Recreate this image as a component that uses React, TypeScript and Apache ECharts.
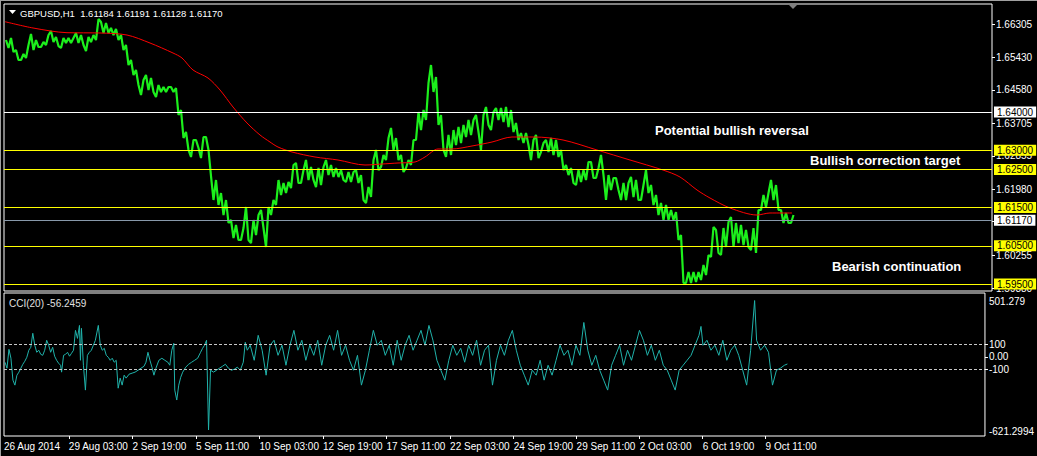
import React, { useEffect, useRef } from 'react';
import * as echarts from 'echarts';

// ---- price data: 5-hour sample columns (high / low), first column starts at hour 1
const BAR_STEP = 5;
const FIRST_HOUR = 1;
const priceHigh = [
  1.65887,1.65940,1.65626,1.65521,1.65757,1.66045,1.65887,1.65835,1.66018,1.66123,
  1.65966,1.65940,1.65940,1.65940,1.66071,1.66018,1.65966,1.66018,1.66437,1.66359,
  1.66333,1.66202,1.66175,1.66018,1.65757,1.65364,1.65102,1.64840,1.64971,1.64893,
  1.64709,1.64657,1.64657,1.64657,1.64631,1.64055,1.63479,1.63270,1.63270,1.63348,
  1.63348,1.62327,1.62223,1.61882,1.61699,1.61175,1.61045,1.60966,1.61516,1.61175,
  1.61306,1.61437,1.61516,1.61699,1.62223,1.62144,1.62170,1.62615,1.62668,1.62484,
  1.62746,1.62563,1.62537,1.62563,1.62746,1.62615,1.62537,1.62484,1.62432,1.62432,
  1.62484,1.62353,1.62039,1.62746,1.63008,1.62877,1.63322,1.63584,1.63322,1.62877,
  1.62746,1.63270,1.64003,1.64055,1.64762,1.65233,1.64919,1.63924,1.63401,1.63531,
  1.63610,1.63662,1.63793,1.63793,1.63924,1.63924,1.64134,1.64003,1.64107,1.64107,
  1.64134,1.64055,1.63715,1.63453,1.63453,1.63270,1.63401,1.63191,1.63270,1.63322,
  1.63270,1.63008,1.62615,1.62537,1.62484,1.62484,1.62694,1.62694,1.62537,1.62877,
  1.62353,1.62275,1.62275,1.62144,1.62144,1.62301,1.62223,1.62092,1.62484,1.62092,
  1.61830,1.61620,1.61568,1.61437,1.61385,1.60783,1.59814,1.59814,1.59814,1.59997,
  1.60259,1.60992,1.60914,1.60966,1.61123,1.61254,1.61097,1.61045,1.60914,1.60966,
  1.61437,1.61830,1.61882,1.62223,1.62092,1.61437,1.61359,1.61306,
];
const priceLow = [
  1.65678,1.65573,1.65364,1.65364,1.65416,1.65626,1.65704,1.65704,1.65757,1.65835,
  1.65730,1.65678,1.65809,1.65809,1.65809,1.65757,1.65600,1.65835,1.65887,1.66071,
  1.66071,1.66018,1.65887,1.65626,1.65233,1.64971,1.64709,1.64448,1.64579,1.64526,
  1.64395,1.64526,1.64526,1.64526,1.63924,1.63322,1.63008,1.62825,1.63060,1.62798,
  1.63008,1.61699,1.61568,1.61306,1.61097,1.60704,1.60652,1.60652,1.60652,1.60573,
  1.60783,1.60966,1.60469,1.61306,1.61568,1.61830,1.61882,1.62013,1.62144,1.62144,
  1.62223,1.62223,1.62039,1.62092,1.62353,1.62301,1.62301,1.62223,1.62170,1.62170,
  1.62144,1.61699,1.61620,1.61778,1.62484,1.62563,1.62746,1.63008,1.62746,1.62432,
  1.62537,1.62615,1.63270,1.63531,1.63793,1.64526,1.63662,1.63008,1.62825,1.62877,
  1.63139,1.63191,1.63348,1.63401,1.63479,1.63008,1.63662,1.63531,1.63793,1.63741,
  1.63610,1.63479,1.63270,1.63191,1.63139,1.62746,1.62798,1.62956,1.62956,1.62877,
  1.62825,1.62484,1.62353,1.62144,1.62092,1.62170,1.62223,1.62275,1.62275,1.62353,
  1.61699,1.61961,1.61961,1.61699,1.61699,1.61778,1.61699,1.61699,1.61882,1.61568,
  1.61306,1.61175,1.61175,1.61175,1.60652,1.59526,1.59526,1.59526,1.59552,1.59605,
  1.59736,1.60207,1.60312,1.60259,1.60469,1.60469,1.60573,1.60521,1.60469,1.60390,
  1.60312,1.61437,1.61516,1.61699,1.61437,1.61097,1.61097,1.61097,
];

// ---- moving average (red)
const maHours = [1,29,63,96,123,146,169,178,189,204,216,229,243,256,266,274,288,311,334,361,378,394,411,421,434,448,468,488,508,531,559,593,626,659,676,693,706,726,753,766,788];
const maValues = [1.66367,1.66202,1.66079,1.66071,1.66018,1.65809,1.65547,1.65416,1.65102,1.64893,1.64579,1.64134,1.63715,1.63401,1.63217,1.63086,1.62956,1.62825,1.62746,1.62615,1.62641,1.62668,1.62694,1.62825,1.63034,1.63034,1.63113,1.63217,1.63348,1.63348,1.63270,1.63008,1.62746,1.62484,1.62301,1.61961,1.61751,1.61490,1.61306,1.61359,1.61359];

// ---- CCI(20)
const cciHours = [1,3,5,7,9,11,13,15,17,19,21,23,25,27,29,31,33,35,37,39,41,43,45,47,49,51,53,55,57,58,60,62,64,66,68,70,72,74,76,77,78,80,82,84,86,88,90,92,95,97,99,101,103,105,107,109,111,113,115,117,119,121,123,126,129,132,135,138,141,143,145,147,149,151,153,156,159,162,165,167,169,171,172,174,176,178,180,183,186,189,192,195,198,200,202,204,206,208,211,214,217,220,223,226,229,232,235,238,241,243,245,
  248,252,256,260,264,268,272,276,280,284,288,292,296,300,304,308,312,316,320,324,328,332,336,340,344,348,352,356,360,364,368,372,376,380,384,388,392,396,400,404,408,412,416,420,424,428,432,436,440,444,448,452,456,460,464,468,472,476,480,484,488,492,496,500,504,508,512,516,520,524,528,532,536,540,544,548,552,556,560,564,568,572,576,580,584,588,592,596,600,604,608,612,616,620,624,628,632,636,640,644,648,652,656,660,664,668,672,676,680,684,688,692,696,700,702,704,708,712,716,720,724,728,732,736,740,744,748,752,756,758,762,766,770,774,778,782,786,789];
const cciValues = [-42,-89,59,-11,-183,-222,-144,-120,-89,-58,-34,-3,52,75,185,91,36,52,20,12,52,130,91,36,75,5,-27,-50,-66,-120,12,20,36,5,28,52,208,145,247,-27,224,-66,-261,12,36,52,91,130,247,91,52,67,12,-3,-27,-11,-42,-27,-246,-167,-222,-144,-167,-136,-128,-120,-105,-89,-74,-42,36,-27,-81,-144,-89,-27,-11,-27,-42,-66,52,106,-261,-339,-222,-160,-120,-81,-58,-42,-27,-11,36,67,91,130,-574,-105,-120,-105,-89,-74,-58,-89,-105,-97,-81,-105,-42,114,52,
  91,-27,169,52,-144,91,130,12,91,-66,91,208,52,130,-27,91,12,130,-66,91,169,52,208,12,91,-27,-105,12,-222,-105,52,208,91,130,12,91,-66,130,-27,91,169,52,130,208,91,247,130,-27,-105,-183,-27,91,12,67,-42,91,12,130,-66,52,91,-222,-27,91,12,130,208,52,-66,-144,-222,-105,-144,-27,-183,-66,-144,-27,91,12,52,-66,91,12,270,52,-66,12,-105,-183,-261,-66,12,91,-66,52,-27,91,208,130,12,91,-27,52,-66,-105,-183,-261,-105,-66,-27,12,91,169,239,91,130,52,91,12,130,-27,52,91,12,-105,-222,52,442,130,52,91,36,-222,-105,-89,-66,-56];

// ---- axes / levels
const timeTickHours = [0, 65.3, 129.3, 193.3, 257.3, 321.3, 385.3, 449.3, 513.3, 576.7, 640.3, 703.7, 767];
const timeTickLabels = ['26 Aug 2014','29 Aug 03:00','2 Sep 19:00','5 Sep 11:00','10 Sep 03:00','12 Sep 19:00','17 Sep 11:00','22 Sep 03:00','24 Sep 19:00','29 Sep 11:00','2 Oct 03:00','6 Oct 19:00','9 Oct 11:00'];
const priceTicks = [1.66305, 1.65430, 1.64580, 1.63705, 1.62855, 1.61980, 1.61130, 1.60255, 1.59380];
const yellowLevels = [1.63, 1.625, 1.615, 1.605, 1.595];
const whiteLevel = 1.64;
const bidLevel = 1.6117;
const cciTicks = [501.279, 100, 0, -100, -621.2994];
const cciTickLabels = ['501.279', '100', '0.00', '-100', '-621.2994'];
const cciLevels = [100, -100];
const PRICE_MIN = 1.59317;
const PRICE_MAX = 1.6683;
const HOURS_MAX = 988;

const FONT = 'Liberation Sans, Arial, sans-serif';
const GREEN = '#1cf01c';

export default function App() {
  const ref = useRef<HTMLDivElement>(null);
  useEffect(() => {
    document.body.style.margin = '0';
    const chart = echarts.init(ref.current!, null, { renderer: 'svg' });
    // each sample column: a vertical high-low stroke, joined into one jagged price trace
    const mid = (i: number) => (priceHigh[i] + priceLow[i]) / 2;
    const trace: number[][] = [];
    priceHigh.forEach((h, i) => {
      const start = FIRST_HOUR + i * BAR_STEP;
      const goingDown = i < priceHigh.length - 1 ? mid(i + 1) < mid(i) : false;
      if (goingDown) { trace.push([start + 1, h], [start + 3.5, priceLow[i]]); }
      else { trace.push([start + 1, priceLow[i]], [start + 3.5, h]); }
    });
    const levelLabel = (bg: string) => ({
      show: true, position: 'end', distance: 2, formatter: (p: any) => Number(p.value).toFixed(5),
      backgroundColor: bg, color: '#000', fontSize: 10, fontFamily: FONT, padding: [1, 3, 0, 3], lineHeight: 10,
    });
    const option: any = {
      animation: false,
      backgroundColor: '#000',
      grid: [
        { left: 4, top: 4, width: 988, height: 287, show: true, borderColor: '#fff', borderWidth: 1 },
        { left: 4, top: 293, width: 988, height: 143, show: true, borderColor: '#fff', borderWidth: 1 },
      ],
      xAxis: [
        { type: 'value', gridIndex: 0, min: 0, max: HOURS_MAX, show: false },
        {
          type: 'value', gridIndex: 1, min: 0, max: HOURS_MAX,
          axisLine: { show: false, onZero: false }, splitLine: { show: false },
          axisTick: { show: true, customValues: timeTickHours.slice(1), length: 3, lineStyle: { color: '#fff' } },
          axisLabel: {
            customValues: timeTickHours, align: 'left', color: '#fff', fontSize: 10, fontFamily: FONT, margin: 5,
            formatter: (v: number) => { const i = timeTickHours.findIndex(t => Math.abs(t - v) < 0.01); return i >= 0 ? timeTickLabels[i] : ''; },
          },
        },
      ],
      yAxis: [
        {
          type: 'value', gridIndex: 0, position: 'right', min: PRICE_MIN, max: PRICE_MAX,
          axisLine: { show: false, onZero: false }, splitLine: { show: false },
          axisTick: { show: true, customValues: priceTicks, length: 3, lineStyle: { color: '#fff' } },
          axisLabel: { customValues: priceTicks, color: '#fff', fontSize: 10, fontFamily: FONT, margin: 4, formatter: (v: number) => v.toFixed(5) },
        },
        {
          type: 'value', gridIndex: 1, position: 'right', min: -621.2994, max: 501.279,
          axisLine: { show: false, onZero: false }, splitLine: { show: false },
          axisTick: { show: true, customValues: [100, 0, -100], length: 3, lineStyle: { color: '#fff' } },
          axisLabel: {
            customValues: cciTicks, color: '#fff', fontSize: 10, fontFamily: FONT, margin: 4,
            formatter: (v: number) => {
              const i = cciTicks.findIndex(t => Math.abs(t - v) < 0.001);
              if (i === 0) return '{t|' + cciTickLabels[i] + '}';
              if (i === cciTicks.length - 1) return '{b|' + cciTickLabels[i] + '}';
              return i >= 0 ? cciTickLabels[i] : '';
            },
            rich: {
              t: { color: '#fff', fontSize: 10, fontFamily: FONT, padding: [16, 0, 0, 0] },
              b: { color: '#fff', fontSize: 10, fontFamily: FONT, padding: [0, 0, 10, 0] },
            },
          },
        },
      ],
      series: [
        {
          type: 'line', xAxisIndex: 0, yAxisIndex: 0, data: trace,
          symbol: 'none', lineStyle: { color: GREEN, width: 2.2 }, z: 3,
        },
        {
          type: 'line', xAxisIndex: 0, yAxisIndex: 0, data: maHours.map((h, i) => [h, maValues[i]]),
          symbol: 'none', smooth: 0.3, lineStyle: { color: '#ff0000', width: 1 }, z: 4,
          markLine: {
            silent: true, symbol: ['none', 'none'], animation: false, precision: 5,
            data: [
              { yAxis: whiteLevel, lineStyle: { color: '#ffffff', width: 1, type: 'solid' }, label: levelLabel('#ffffff') },
              ...yellowLevels.map(v => ({ yAxis: v, lineStyle: { color: '#ffff00', width: 1, type: 'solid' }, label: levelLabel('#ffff00') })),
              { yAxis: bidLevel, lineStyle: { color: '#8899aa', width: 1, type: 'solid' }, label: levelLabel('#ffffff') },
            ],
          },
        },
        {
          type: 'line', xAxisIndex: 1, yAxisIndex: 1, data: cciHours.map((h, i) => [h, cciValues[i]]),
          symbol: 'none', lineStyle: { color: '#20b2aa', width: 1 }, z: 4,
          markLine: {
            silent: true, symbol: ['none', 'none'], animation: false, label: { show: false }, precision: 2,
            data: cciLevels.map(v => ({ yAxis: v })),
            lineStyle: { color: '#c8c8c8', width: 1, type: [3, 2] },
          },
        },
      ],
      graphic: [
        { type: 'rect', shape: { x: 0, y: 0, width: 1037, height: 1 }, style: { fill: '#a0a0a0' }, silent: true },
        { type: 'rect', shape: { x: 0, y: 0, width: 1, height: 456 }, style: { fill: '#a0a0a0' }, silent: true },
        { type: 'polygon', shape: { points: [[9, 10], [16, 10], [12.5, 14]] }, style: { fill: '#fff' }, silent: true },
        { type: 'text', x: 20, y: 13, style: { text: 'GBPUSD,H1  1.61184 1.61191 1.61128 1.61170', fill: '#fff', font: '9.5px ' + FONT, verticalAlign: 'middle' }, silent: true },
        { type: 'polygon', shape: { points: [[788, 4], [798, 4], [793, 9]] }, style: { fill: '#808080' }, silent: true },
        { type: 'text', x: 9, y: 303, style: { text: 'CCI(20) -56.2459', fill: '#e0e0e0', font: '10px ' + FONT, verticalAlign: 'middle' }, silent: true },
        { type: 'text', x: 655, y: 130, style: { text: 'Potential bullish reversal', fill: '#fff', font: 'bold 13px ' + FONT, verticalAlign: 'middle', shadowColor: 'rgba(170,170,170,0.8)', shadowBlur: 3, shadowOffsetY: 1 }, silent: true, z: 10 },
        { type: 'text', x: 810, y: 160, style: { text: 'Bullish correction target', fill: '#fff', font: 'bold 13px ' + FONT, verticalAlign: 'middle', shadowColor: 'rgba(170,170,170,0.8)', shadowBlur: 3, shadowOffsetY: 1 }, silent: true, z: 10 },
        { type: 'text', x: 832, y: 266, style: { text: 'Bearish continuation', fill: '#fff', font: 'bold 13px ' + FONT, verticalAlign: 'middle', shadowColor: 'rgba(170,170,170,0.8)', shadowBlur: 3, shadowOffsetY: 1 }, silent: true, z: 10 },
      ],
    };
    chart.setOption(option);
    return () => chart.dispose();
  }, []);
  return <div ref={ref} style={{ position: 'absolute', left: 0, top: 0, width: 1037, height: 456, background: '#000' }} />;
}
